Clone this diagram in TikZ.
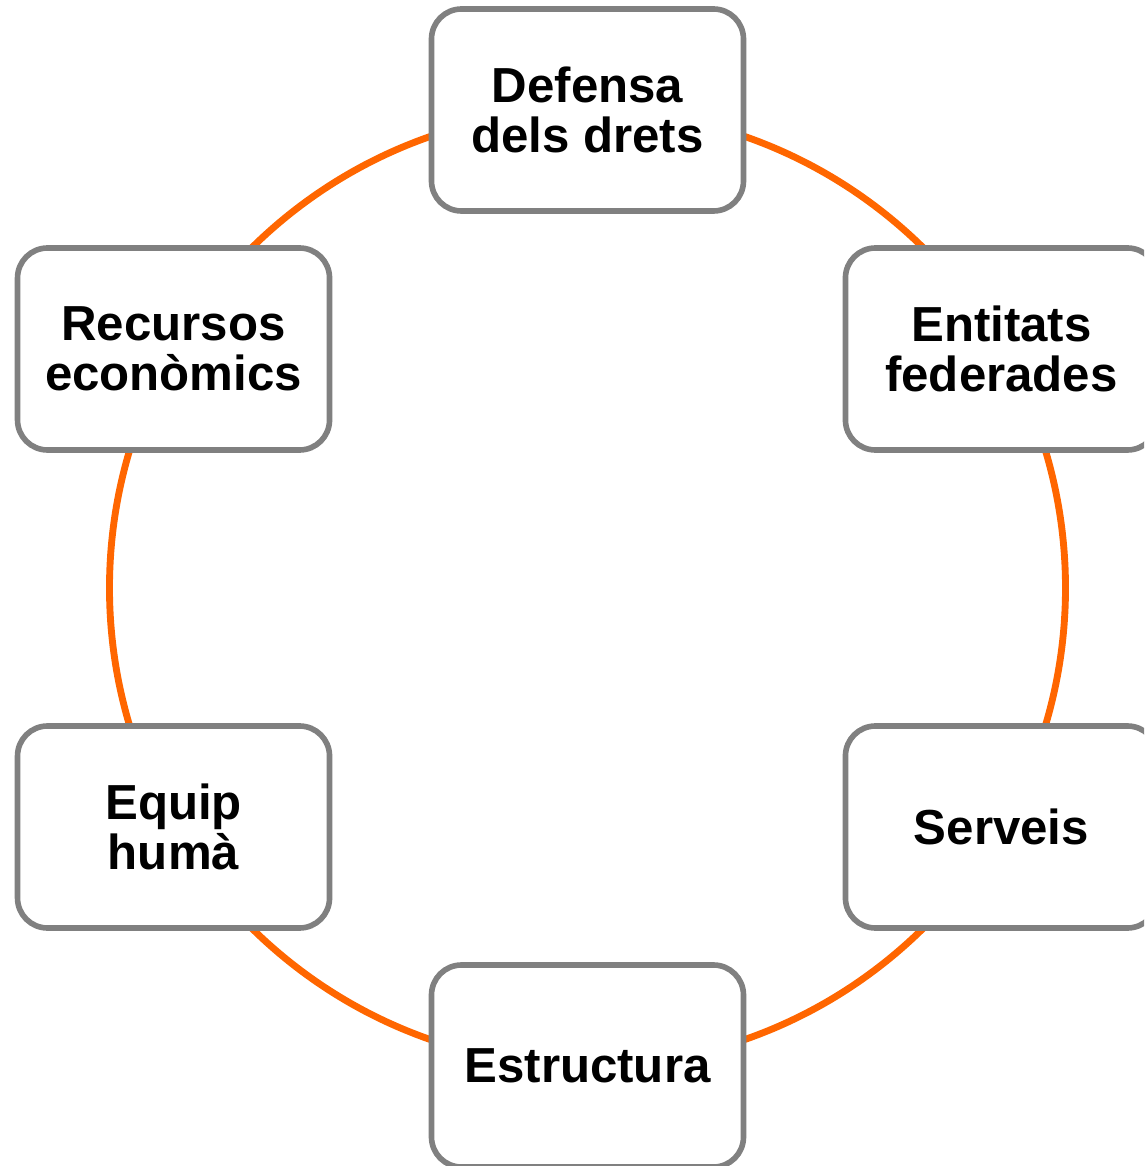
\documentclass[tikz,border=0pt]{standalone}
\usepackage{fontspec}
\setmainfont{Liberation Sans}
\usepackage{xcolor}
\usepackage{tikz}
\usetikzlibrary{calc,positioning}
\definecolor{ringc}{HTML}{FF6600}
\definecolor{edgec}{HTML}{808080}
\tikzset{
  ring/.style={line width=3.9pt,ringc},
  box/.style={draw=edgec,line width=3.2pt,rounded corners=0.6cm,fill=white,align=center,
    minimum width=6.24cm,minimum height=4.04cm,inner sep=2pt,
    font=\fontsize{28}{28.5}\selectfont\bfseries}
}
\begin{document}
\begin{tikzpicture}
\useasboundingbox (-11.75,-11.56) rectangle (11.13,11.76);
\clip (-11.75,-11.56) rectangle (11.13,11.76);
\coordinate (ctr) at (0,0);
\draw[ring] (ctr) circle (9.56);
\node[box] (drets) at ($(ctr)+(90:9.56)$) {Defensa\\dels drets};
\node[box] (entitats) at ($(ctr)+(30:9.56)$) {Entitats\\federades};
\node[box] (serveis) at ($(ctr)+(-30:9.56)$) {Serveis};
\node[box] (estructura) at ($(ctr)+(-90:9.56)$) {Estructura};
\node[box] (equip) at ($(ctr)+(-150:9.56)$) {Equip\\humà};
\node[box] (recursos) at ($(ctr)+(150:9.56)$) {Recursos\\econòmics};
\end{tikzpicture}
\end{document}
